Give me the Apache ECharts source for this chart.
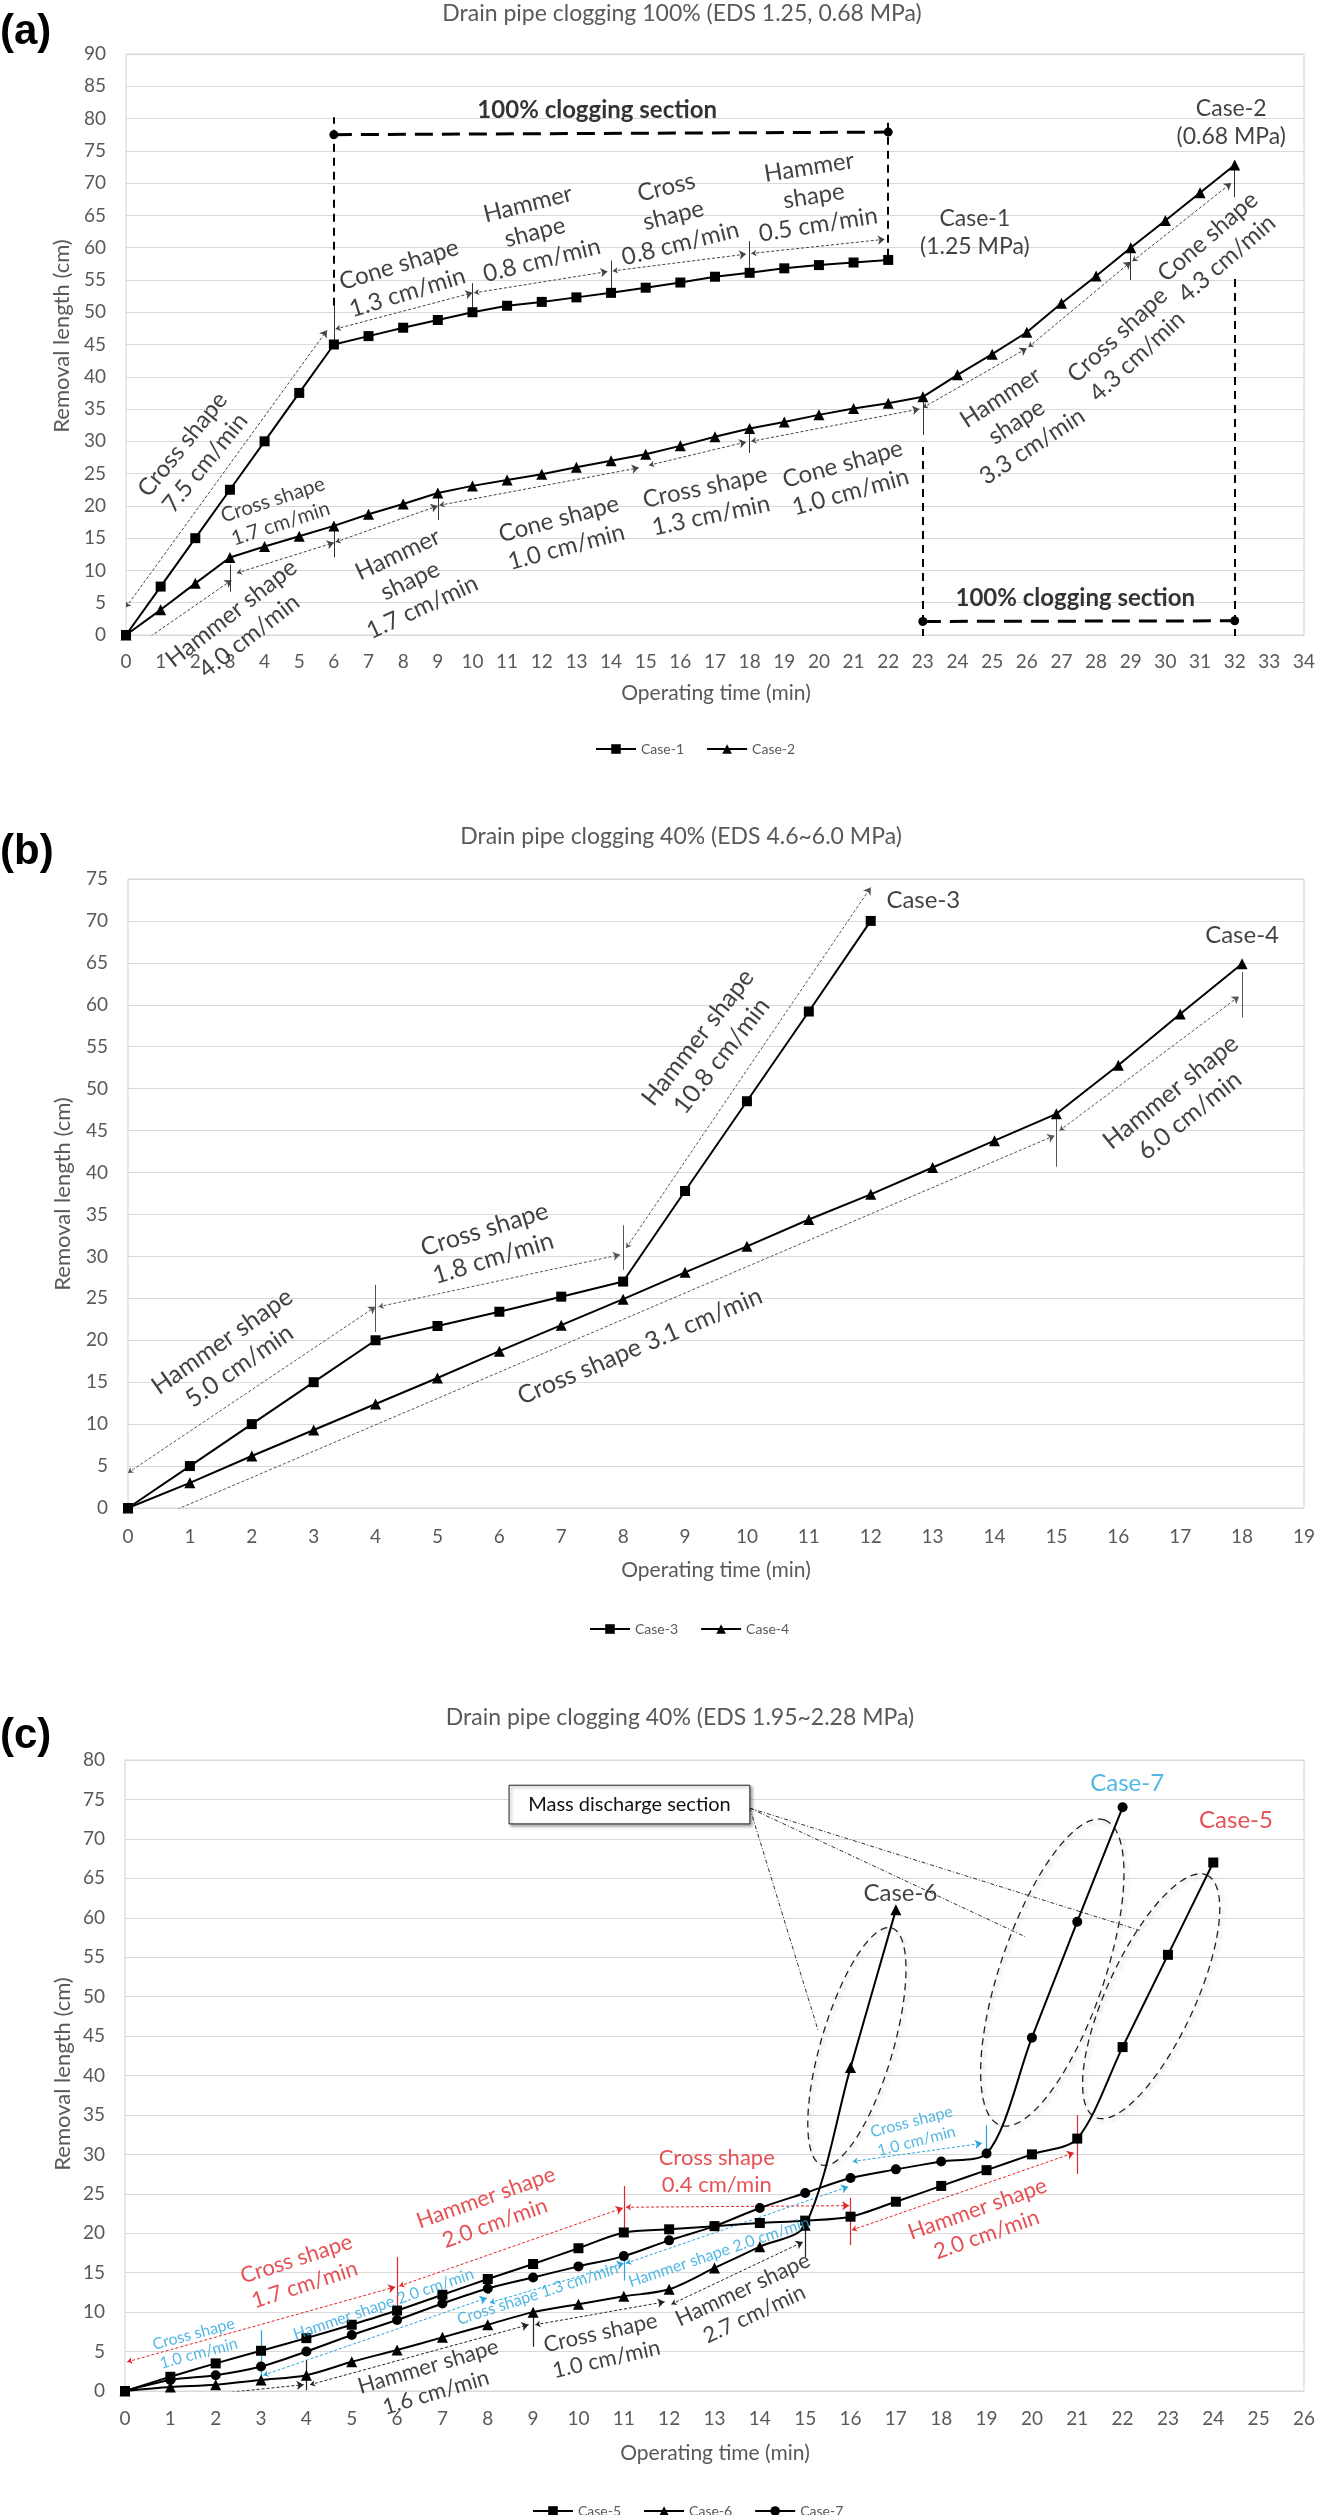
<!DOCTYPE html>
<html><head><meta charset="utf-8">
<script src="https://cdn.jsdelivr.net/npm/echarts@6/dist/echarts.min.js"></script>
<style>html,body{margin:0;padding:0;background:#fff}#c{width:1318px;height:2515px}</style>
</head><body><div id="c"></div>
<script>
// ---------------- DATA ----------------
const yTicksA = [0,5,10,15,20,25,30,35,40,45,50,55,60,65,70,75,80,85,90];
const xTicksA = [0,1,2,3,4,5,6,7,8,9,10,11,12,13,14,15,16,17,18,19,20,21,22,23,24,25,26,27,28,29,30,31,32,33,34];
const yTicksB = [0,5,10,15,20,25,30,35,40,45,50,55,60,65,70,75];
const xTicksB = [0,1,2,3,4,5,6,7,8,9,10,11,12,13,14,15,16,17,18,19];
const yTicksC = [0,5,10,15,20,25,30,35,40,45,50,55,60,65,70,75,80];
const xTicksC = [0,1,2,3,4,5,6,7,8,9,10,11,12,13,14,15,16,17,18,19,20,21,22,23,24,25,26];

const minutes1 = [0,1,2,3,4,5,6,7,8,9,10,11,12,13,14,15,16,17,18,19,20,21,22];
const case1 = [0,7.5,15,22.5,30,37.5,45,46.3,47.6,48.8,50,51,51.6,52.3,53,53.8,54.6,55.5,56.1,56.8,57.3,57.7,58.1];
const minutes2 = [0,1,2,3,4,5,6,7,8,9,10,11,12,13,14,15,16,17,18,19,20,21,22,23,24,25,26,27,28,29,30,31,32];
const case2 = [0,3.9,8,12,13.7,15.3,16.9,18.7,20.3,22,23.1,24,24.9,26,27,28,29.3,30.7,32,33,34.1,35.1,35.9,36.9,40.3,43.5,46.9,51.4,55.6,60,64.2,68.5,72.8];

const minutes3 = [0,1,2,3,4,5,6,7,8,9,10,11,12];
const case3 = [0,5,10,15,20,21.7,23.4,25.2,27,37.8,48.5,59.2,70];
const minutes4 = [0,1,2,3,4,5,6,7,8,9,10,11,12,13,14,15,16,17,18];
const case4 = [0,3,6.2,9.3,12.4,15.5,18.7,21.8,24.9,28.1,31.2,34.4,37.4,40.6,43.8,47,52.8,58.9,64.9];

const minutes5 = [0,1,2,3,4,5,6,7,8,9,10,11,12,13,14,15,16,17,18,19,20,21,22,23,24];
const case5 = [0,1.8,3.5,5.1,6.7,8.4,10.2,12.2,14.2,16.1,18.1,20.1,20.5,20.9,21.3,21.6,22.1,24,26,28,30,32,43.6,55.3,67];
const minutes6 = [0,1,2,3,4,5,6,7,8,9,10,11,12,13,14,15,16,17];
const case6 = [0,0.5,0.8,1.4,2,3.7,5.2,6.8,8.4,10,11,12,12.9,15.6,18.3,21,41,61];
const minutes7 = [0,1,2,3,4,5,6,7,8,9,10,11,12,13,14,15,16,17,18,19,20,21,22];
const case7 = [0,1.4,2,3.1,5,7.1,9,11.1,13,14.4,15.8,17.1,19.1,20.9,23.2,25.1,27,28.1,29.1,30.1,44.8,59.5,74];

// annotations (text, x, y, rotation deg) in data units
const notesA = [
  ['Cross shape\n7.5 cm/min', 1.96, 28.1, 51],
  ['Cone shape\n1.3 cm/min', 8.0, 55.2, 17],
  ['Hammer\nshape\n0.8 cm/min', 11.8, 62.4, 14],
  ['Cross\nshape\n0.8 cm/min', 15.8, 65, 14],
  ['Hammer\nshape\n0.5 cm/min', 19.85, 68, 9],
  ['Hammer\nshape\n1.7 cm/min', 8.2, 8.4, 25],
  ['Hammer shape\n4.0 cm/min', 3.3, 1.6, 38],
  ['Cone shape\n1.0 cm/min', 12.6, 15.8, 15],
  ['Cross shape\n1.3 cm/min', 16.8, 20.7, 12],
  ['Cone shape\n1.0 cm/min', 20.8, 24.3, 15.5],
  ['Hammer\nshape\n3.3 cm/min', 25.7, 33, 33],
  ['Cross shape\n4.3 cm/min', 28.9, 44.8, 43],
  ['Cone shape\n4.3 cm/min', 31.5, 60, 41]
];
const caseLabelsA = [['Case-1\n(1.25 MPa)', 24.5, 62.3, 0], ['Case-2\n(0.68 MPa)', 31.9, 79.4, 0]];
const notesASmall = [['Cross shape\n1.7 cm/min', 4.35, 19.1, 18]];
const notesABold = [['100% clogging section', 13.6, 81.3, 0], ['100% clogging section', 27.4, 5.7, 0]];
const arrowsA = [
  [0, 4.3, 5.8, 47.2], [6.05, 47.4, 10, 53.0], [10.05, 53.0, 13.9, 56.3], [14.05, 56.4, 17.9, 59.0],
  [18.05, 59.1, 21.9, 61.3], [0.23, -2.0, 3.05, 8.5], [3.2, 9.6, 6.0, 14.3], [6.05, 14.4, 9.0, 20.0],
  [9.05, 20.1, 14.8, 25.9], [15.1, 26.3, 17.9, 29.9], [18.05, 30.0, 22.9, 35.0], [23.0, 35.2, 26.0, 44.4],
  [26.05, 44.6, 29.0, 57.8], [29.05, 57.9, 31.9, 70.0]
];
const ticksA = [[6,45,51],[10,50,54.5],[14,53.4,58],[18,56,61],[3,6.7,10.9],[6,12,17],[9,17.8,22],[18,28.2,32.5],[23,31,36.5],[29,55,60],[32,67.8,72.5]];
const sectionVertA = [[6,51,80.2],[22,58.6,79.8],[23,-0.3,30],[32,-0.3,56]];
const sectionHorizA = [[6,77.5,22,77.9],[23,2.1,32,2.2]];

const notesB = [
  ['Hammer shape\n5.0 cm/min', 1.66, 18.4, 35],
  ['Cross shape\n1.8 cm/min', 5.83, 31.5, 17],
  ['Hammer shape\n10.8 cm/min', 9.4, 55, 52],
  ['Cross shape 3.1 cm/min', 8.27, 19.3, 23],
  ['Hammer shape\n6.0 cm/min', 17.0, 48.2, 39]
];
const caseLabelsB = [['Case-3', 12.85, 72.5, 0], ['Case-4', 18.0, 68.3, 0]];
const arrowsB = [[0, 4.2, 4.0, 24.0],[4.05, 24.0, 7.95, 30.2],[8.05, 31, 12.0, 74.0],[0.05, -2.5, 14.97, 44.4],[15.05, 45.0, 17.95, 61.0]];
const ticksB = [[4,21,26.6],[8,28.4,33.7],[15,40.7,47],[18,58.5,63.9]];

const notesCRed = [
  ['Cross shape\n1.7 cm/min', 3.87, 15.1, 18],
  ['Hammer shape\n2.0 cm/min', 8.06, 22.9, 19.5],
  ['Cross shape\n0.4 cm/min', 13.05, 27.9, 0],
  ['Hammer shape\n2.0 cm/min', 18.9, 21.45, 19.5]
];
const notesCBlue = [
  ['Cross shape\n1.0 cm/min', 1.57, 6, 15],
  ['Hammer shape 2.0 cm/min', 5.7, 11.0, 19],
  ['Cross shape 1.3 cm/min', 9.1, 12.3, 18],
  ['Hammer shape 2.0 cm/min', 13.1, 17.6, 18.6],
  ['Cross shape\n1.0 cm/min', 17.4, 32.9, 14.5]
];
const notesCBlack = [
  ['Hammer shape\n1.6 cm/min', 6.77, 1.45, 16.5],
  ['Cross shape\n1.0 cm/min', 10.55, 5.7, 12.6],
  ['Hammer shape\n2.7 cm/min', 13.75, 11.3, 25]
];
const notesCBlackSmall = [['Cross shape 0.5 cm/min', 2.37, -1.5, 5]];
const caseLabelC5 = [['Case-5', 24.5, 72.4, 0]];
const caseLabelC6 = [['Case-6', 17.1, 63.1, 0]];
const caseLabelC7 = [['Case-7', 22.1, 77.1, 0]];
const arrowsCRed = [[0.05, 3.7, 5.96, 13.2],[6.05, 13.3, 10.98, 23.2],[11.05, 23.3, 15.97, 23.5],[16.03, 20.4, 20.93, 30.2]];
const arrowsCBlue = [[3.05, 2.0, 7.98, 11.8],[8.05, 11.2, 11.0, 16.2],[11.05, 16.2, 15.95, 25.9],[16.05, 29.1, 18.9, 31.4]];
const arrowsCBlack = [[0.05, -1.5, 3.94, 0.8],[4.08, 0.8, 8.9, 8.4],[9.05, 8.4, 11.9, 11.3],[12.05, 11.0, 14.95, 18.9]];
const ticksCRed = [[6,10.5,17],[11,20,26],[16,18.5,24.5],[21,27.5,35]];
const ticksCBlue = [[3,1.8,7.7],[11,14,17.5],[19,30.2,33.7]];
const ticksCBlueBold = [[8,12.3,14.8]];
const ticksCBlack = [[4,0.1,3.9],[9,5.6,9.9],[15,17,21]];
const massBox = [[8.47, 76.8, 13.78, 71.9]];
const massPointers = [[13.78, 73.9, 15.28, 45.8],[13.78, 73.9, 19.85, 57.6],[13.78, 73.9, 22.38, 58.4]];
const ellipsesC = [[15.37, 28.65, 16.91, 58.7],[19.3, 33.7, 21.6, 72.4],[21.4, 34.7, 23.86, 65.4]];
const ellipseHalfWidthPx = [36, 52, 44];

// ---------------- STYLE / BUILD ----------------
const FONT = 'Lato';
const GRAY = '#595959';
const RED = '#e0262a';
const BLUE = '#27a6dc';
const pairs = (xs, ys) => xs.map((x, i) => [x, ys[i]]);

const grids = [
  {left:126, top:54, width:1180, height:581},
  {left:128, top:879, width:1177, height:629},
  {left:125, top:1760, width:1179, height:631}
];
const xt = [xTicksA, xTicksB, xTicksC], yt = [yTicksA, yTicksB, yTicksC];
const margins = [17, 19, 18];

const xAxis = grids.map((g, i) => ({
  gridIndex:i, type:'value', min:xt[i][0], max:xt[i][xt[i].length-1], interval:1,
  axisLine:{show:false}, axisTick:{show:false}, splitLine:{show:false},
  axisLabel:{color:GRAY, fontSize:19, fontFamily:FONT, margin:margins[i], showMinLabel:true, showMaxLabel:true}
}));
const yAxis = grids.map((g, i) => ({
  gridIndex:i, type:'value', min:yt[i][0], max:yt[i][yt[i].length-1], interval:5,
  axisLine:{show:false}, axisTick:{show:false},
  splitLine:{lineStyle:{color:'#d9d9d9', width:1.2}},
  axisLabel:{color:GRAY, fontSize:19, fontFamily:FONT, margin:20}
}));

function caseSeries(name, gi, xs, ys, symbol, size, smooth) {
  return {type:'line', name, xAxisIndex:gi, yAxisIndex:gi, data:pairs(xs, ys), symbol, symbolSize:size,
    smooth: smooth || false, lineStyle:{color:'#000', width:2}, itemStyle:{color:'#000'}, z:6, silent:true};
}
function textSeries(gi, notes, color, fontSize, lineHeight, bold) {
  return {type:'scatter', xAxisIndex:gi, yAxisIndex:gi, symbolSize:1, silent:true, z:8,
    itemStyle:{color:'rgba(0,0,0,0)'},
    data: notes.map(n => ({name:n[0], value:[n[1], n[2]], label:{rotate:n[3]}})),
    label:{show:true, position:'inside', formatter:'{b}', color, fontSize, fontFamily:FONT,
      fontWeight: bold ? 'bold' : 'normal', lineHeight, align:'center', verticalAlign:'middle'}};
}
function arrowSeries(gi, arr, color, dash) {
  return {type:'lines', coordinateSystem:'cartesian2d', xAxisIndex:gi, yAxisIndex:gi, silent:true, z:5,
    symbol:['arrow','arrow'], symbolSize:[5,7],
    lineStyle:{color, width:1, type:dash || [3,2], opacity:1},
    data: arr.map(a => ({coords:[[a[0], a[1]], [a[2], a[3]]]}))};
}
function tickSeries(gi, arr, color, width) {
  return {type:'lines', coordinateSystem:'cartesian2d', xAxisIndex:gi, yAxisIndex:gi, silent:true, z:5,
    symbol:['none','none'], lineStyle:{color, width:width || 1, type:'solid', opacity:1},
    data: arr.map(a => ({coords:[[a[0], a[1]], [a[0], a[2]]]}))};
}

const series = [
  caseSeries('Case-1', 0, minutes1, case1, 'rect', 10),
  caseSeries('Case-2', 0, minutes2, case2, 'triangle', 11),
  caseSeries('Case-3', 1, minutes3, case3, 'rect', 10),
  caseSeries('Case-4', 1, minutes4, case4, 'triangle', 11),
  caseSeries('Case-5', 2, minutes5, case5, 'rect', 10, 0.3),
  caseSeries('Case-6', 2, minutes6, case6, 'triangle', 11, 0.3),
  caseSeries('Case-7', 2, minutes7, case7, 'circle', 10, 0.3),

  // panel a
  arrowSeries(0, arrowsA, '#444'),
  tickSeries(0, ticksA, '#333', 1),
  {type:'lines', coordinateSystem:'cartesian2d', xAxisIndex:0, yAxisIndex:0, silent:true, z:5,
    symbol:['none','none'], lineStyle:{color:'#000', width:2, type:[8,6], opacity:1},
    data: sectionVertA.map(a => ({coords:[[a[0], a[1]], [a[0], a[2]]]}))},
  {type:'lines', coordinateSystem:'cartesian2d', xAxisIndex:0, yAxisIndex:0, silent:true, z:5,
    symbol:['circle','circle'], symbolSize:9, lineStyle:{color:'#000', width:3, type:[18,9], opacity:1},
    data: sectionHorizA.map(a => ({coords:[[a[0], a[1]], [a[2], a[3]]]}))},
  textSeries(0, notesA, '#111', 24, 29),
  textSeries(0, caseLabelsA, '#111', 23, 28),
  textSeries(0, notesASmall, '#111', 20.5, 25),
  textSeries(0, notesABold, '#000', 24, 28, true),

  // panel b
  arrowSeries(1, arrowsB, '#555'),
  tickSeries(1, ticksB, '#555', 1),
  textSeries(1, notesB, '#111', 25, 30),
  textSeries(1, caseLabelsB, '#111', 24, 28),

  // panel c
  arrowSeries(2, arrowsCRed, RED),
  arrowSeries(2, arrowsCBlue, BLUE),
  arrowSeries(2, arrowsCBlack, '#222'),
  tickSeries(2, ticksCRed, RED, 1.2),
  tickSeries(2, ticksCBlue, BLUE, 1.2),
  tickSeries(2, ticksCBlueBold, BLUE, 3),
  tickSeries(2, ticksCBlack, '#222', 1.2),
  {type:'lines', coordinateSystem:'cartesian2d', xAxisIndex:2, yAxisIndex:2, silent:true, z:5,
    symbol:['none','none'], lineStyle:{color:'#333', width:1, type:[4,2,1,2], opacity:1},
    data: massPointers.map(a => ({coords:[[a[0], a[1]], [a[2], a[3]]]}))},
  {type:'custom', xAxisIndex:2, yAxisIndex:2, silent:true, z:4, clip:false,
    encode:{x:[0,2], y:[1,3]}, data: ellipsesC,
    renderItem: (params, api) => {
      const a = api.coord([api.value(0), api.value(1)]);
      const b = api.coord([api.value(2), api.value(3)]);
      const hw = ellipseHalfWidthPx[params.dataIndex];
      const cx = (a[0] + b[0]) / 2, cy = (a[1] + b[1]) / 2;
      const L = Math.hypot(b[0] - a[0], b[1] - a[1]) / 2;
      const ux = (b[0] - a[0]) / (2 * L), uy = (b[1] - a[1]) / (2 * L);
      const vx = -uy, vy = ux;
      const pts = [];
      for (let i = 0; i <= 90; i++) {
        const t = i / 90 * 2 * Math.PI;
        pts.push([cx + L * Math.cos(t) * ux + hw * Math.sin(t) * vx, cy + L * Math.cos(t) * uy + hw * Math.sin(t) * vy]);
      }
      return {type:'polyline', shape:{points:pts},
        style:{fill:null, stroke:'#222', lineWidth:1.3, lineDash:[7,5], shadowBlur:4, shadowColor:'rgba(0,0,0,0.25)', shadowOffsetX:2, shadowOffsetY:2}};
    }},
  {type:'custom', xAxisIndex:2, yAxisIndex:2, silent:true, z:9, clip:false,
    encode:{x:[0,2], y:[1,3]}, data: massBox,
    renderItem: (params, api) => {
      const a = api.coord([api.value(0), api.value(1)]);
      const b = api.coord([api.value(2), api.value(3)]);
      return {type:'group', children:[
        {type:'rect', shape:{x:a[0], y:a[1], width:b[0]-a[0], height:b[1]-a[1]},
          style:{fill:'#fff', stroke:'#222', lineWidth:1, shadowBlur:3, shadowColor:'rgba(0,0,0,0.35)', shadowOffsetX:2, shadowOffsetY:2}},
        {type:'text', style:{text:'Mass discharge section', x:(a[0]+b[0])/2, y:(a[1]+b[1])/2, align:'center', verticalAlign:'middle',
          fill:'#111', font:'20px Lato'}}
      ]};
    }},
  textSeries(2, notesCRed, RED, 22, 27),
  textSeries(2, notesCBlue, BLUE, 16, 20),
  textSeries(2, notesCBlack, '#111', 22, 27),
  textSeries(2, notesCBlackSmall, '#111', 18, 22),
  textSeries(2, caseLabelC5, RED, 24, 28),
  textSeries(2, caseLabelC6, '#111', 24, 28),
  textSeries(2, caseLabelC7, BLUE, 24, 28)
];

const legendStyle = {itemWidth:40, itemHeight:12, itemGap:22, textStyle:{color:GRAY, fontSize:14, fontFamily:FONT}};
const legend = [
  Object.assign({data:['Case-1','Case-2'], left:590, top:737}, legendStyle),
  Object.assign({data:['Case-3','Case-4'], left:584, top:1617}, legendStyle),
  Object.assign({data:['Case-5','Case-6','Case-7'], left:527, top:2499}, legendStyle)
];

function txt(text, x, y, font, color, align, rot) {
  return {type:'text', x, y, rotation: rot || 0, style:{text, font, fill:color, align: align || 'center', verticalAlign:'middle'}, silent:true};
}
const graphic = [
  txt('(a)', 0, 32, 'bold 42px "Liberation Sans", Arial', '#000', 'left'),
  txt('(b)', 0, 852, 'bold 42px "Liberation Sans", Arial', '#000', 'left'),
  txt('(c)', 0, 1736, 'bold 42px "Liberation Sans", Arial', '#000', 'left'),
  txt('Drain pipe clogging 100% (EDS 1.25, 0.68 MPa)', 682, 14, '23px Lato', GRAY),
  txt('Drain pipe clogging 40% (EDS 4.6~6.0 MPa)', 681, 837, '23px Lato', GRAY),
  txt('Drain pipe clogging 40% (EDS 1.95~2.28 MPa)', 680, 1718, '23px Lato', GRAY),
  txt('Operating time (min)', 716, 693, '21px Lato', GRAY),
  txt('Operating time (min)', 716, 1570, '21px Lato', GRAY),
  txt('Operating time (min)', 715, 2453, '21px Lato', GRAY),
  txt('Removal length (cm)', 62, 336, '22px Lato', GRAY, 'center', Math.PI / 2),
  txt('Removal length (cm)', 63, 1194, '22px Lato', GRAY, 'center', Math.PI / 2),
  txt('Removal length (cm)', 63, 2074, '22px Lato', GRAY, 'center', Math.PI / 2)
];

const chart = echarts.init(document.getElementById('c'), null, {renderer:'canvas', width:1318, height:2515});
chart.setOption({
  animation:false,
  backgroundColor:'#fff',
  grid: grids.map(g => Object.assign({show:true, borderColor:'#d9d9d9', borderWidth:1.2, backgroundColor:'transparent'}, g)),
  xAxis, yAxis, legend, graphic, series
});
</script>
</body></html>
